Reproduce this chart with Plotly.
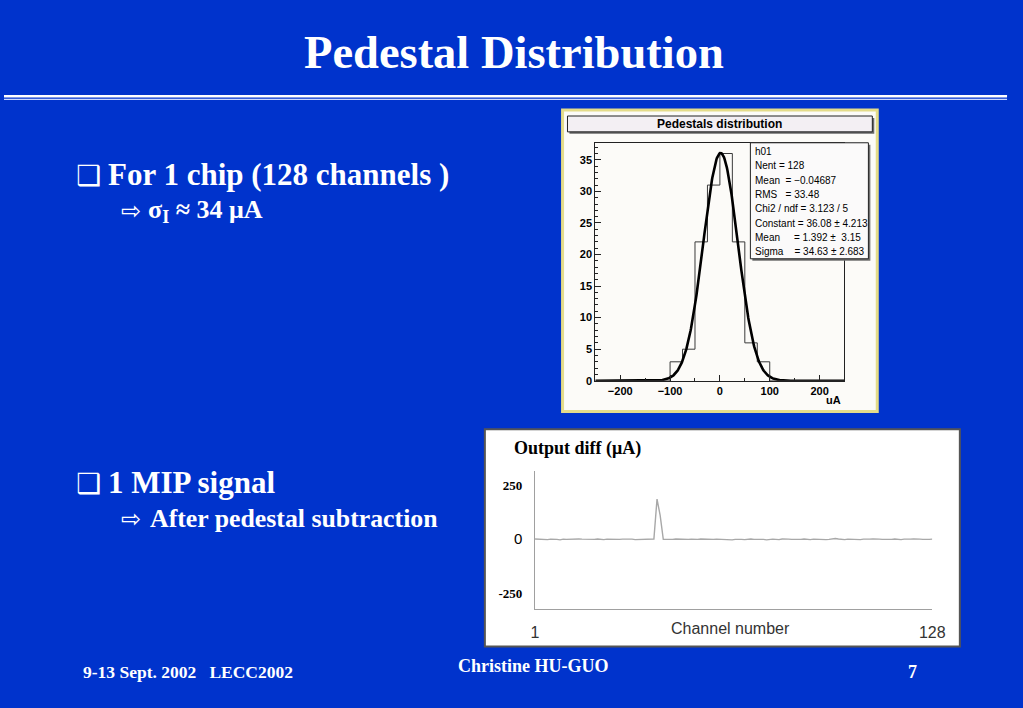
import numpy as np
import plotly.graph_objects as go

W, H = 1023, 708

# ---------------- data ----------------
bin_edges = [-100, -75, -50, -25, 0, 25, 50, 75, 100]
bin_counts = [3, 5, 22, 31, 36, 22, 6, 3]
fit_constant, fit_mean, fit_sigma = 36.08, 1.392, 34.63
hist_xrange = [-250, 250]
hist_yrange = [0, 37.7]

stats_lines = [
    "h01",
    "Nent = 128",
    "Mean  = \u22120.04687",
    "RMS   = 33.48",
    "Chi2 / ndf = 3.123 / 5",
    "Constant = 36.08 \u00b1 4.213",
    "Mean     = 1.392 \u00b1  3.15",
    "Sigma    = 34.63 \u00b1 2.683",
]

channels = list(range(1, 129))
output_diff = [
    2, 1, 3, 0, -1, 1, 2, 0, -2, 1, 0, 1, -1, 0, 2, 1,
    0, -1, 1, 0, 2, 0, -1, 1, 0, 1, -2, 0, 1, 2, 0, 1,
    -1, 0, 1, 2, 0, 1, 2, 188, 112, 0, -1, 1, 0, 2, 1, 0,
    -1, 0, 1, -1, 0, 2, 1, 0, -1, 0, 1, 0, -2, -1, -4, -2,
    0, 1, 0, -1, 1, 2, 0, 1, -1, 0, -2, 0, 1, 0, -1, 2,
    3, 1, 0, -1, 1, 0, 2, 0, -1, 1, 0, 1, 0, -1, 0, 2,
    4, 2, 0, -1, 1, 0, 2, 0, -1, 1, 0, 1, 2, 3, 1, 0,
    -1, 1, 0, 2, 0, -1, 1, 0, 1, 2, 3, 1, 0, -1, 0, 1,
]
diff_ticks = [-250, 0, 250]
diff_yrange = [-325, 319]

# ---------------- helpers ----------------
def px(x):
    return x / W

def py(y):
    return 1 - y / H

BLUE = "#0033cc"
SERIF = "Liberation Serif"
SANS = "Liberation Sans"

fig = go.Figure()

# histogram outline (step) built from bin edges & counts
step_x = [hist_xrange[0]] + bin_edges + [hist_xrange[1]]
step_y = [0] + bin_counts + [0, 0]
fig.add_trace(go.Scatter(x=step_x, y=step_y, mode="lines", line_shape="hv",
                         line=dict(color="#3a3a3a", width=1), xaxis="x", yaxis="y",
                         hoverinfo="skip", showlegend=False))

# gaussian fit curve evaluated from the fitted parameters
gx = np.linspace(hist_xrange[0], hist_xrange[1], 501)
gy = fit_constant * np.exp(-0.5 * ((gx - fit_mean) / fit_sigma) ** 2)
fig.add_trace(go.Scatter(x=gx, y=gy, mode="lines", line=dict(color="black", width=2.6),
                         xaxis="x", yaxis="y", hoverinfo="skip", showlegend=False))

# channel plot
fig.add_trace(go.Scatter(x=channels, y=output_diff, mode="lines",
                         line=dict(color="#a8a8a8", width=1.4), xaxis="x2", yaxis="y2",
                         hoverinfo="skip", showlegend=False))

shapes = []
# title double line
shapes.append(dict(type="line", xref="paper", yref="paper", x0=0, x1=px(1020),
                   y0=py(97), y1=py(97), line=dict(color="white", width=2.5)))
shapes.append(dict(type="line", xref="paper", yref="paper", x0=0, x1=px(1020),
                   y0=py(100.3), y1=py(100.3), line=dict(color="#c9d6ff", width=1.2)))
# histogram canvas
shapes.append(dict(type="rect", xref="paper", yref="paper", layer="below",
                   x0=px(568), x1=px(888), y0=py(415), y1=py(111),
                   fillcolor="#fcfbf8", line=dict(color="#e4dc8a", width=3)))
# title box (shadow + box)
shapes.append(dict(type="rect", xref="paper", yref="paper", layer="above",
                   x0=px(575), x1=px(885), y0=py(135), y1=py(119),
                   fillcolor="#6a6a6a", line=dict(width=0)))
shapes.append(dict(type="rect", xref="paper", yref="paper", layer="above",
                   x0=px(573), x1=px(883), y0=py(133), y1=py(117),
                   fillcolor="#f3eff3", line=dict(color="#222222", width=1)))
# stats box (shadow + box)
shapes.append(dict(type="rect", xref="paper", yref="paper", layer="above",
                   x0=px(761), x1=px(881), y0=py(263), y1=py(146),
                   fillcolor="#707070", line=dict(width=0)))
shapes.append(dict(type="rect", xref="paper", yref="paper", layer="above",
                   x0=px(759), x1=px(879), y0=py(261), y1=py(144),
                   fillcolor="#fbfafa", line=dict(color="#222222", width=1)))
# channel plot panel
shapes.append(dict(type="rect", xref="paper", yref="paper", layer="below",
                   x0=px(489), x1=px(972), y0=py(652), y1=py(433),
                   fillcolor="white", line=dict(color="#555555", width=2)))
fig.update_layout(shapes=shapes)

ann = []
def add_text(text, x, y, size, color="white", family=SERIF, xanchor="left", bold=True, yanchor="middle"):
    ann.append(dict(text=("<b>%s</b>" % text) if bold else text, x=px(x), y=py(y),
                    xref="paper", yref="paper", xanchor=xanchor, yanchor=yanchor,
                    showarrow=False, font=dict(family=family, size=size, color=color)))

# slide texts
add_text("Pedestal Distribution", 519, 53, 46.5, xanchor="center")
add_text("\u2751", 71, 177, 28, family="DejaVu Sans", bold=False)
add_text("For 1 chip (128 channels )", 104, 176, 31)
add_text("\u21e8", 117, 213, 24, family="DejaVu Sans", bold=False)
add_text("\u03c3<sub>I</sub> \u2248 34 \u03bcA", 144, 213, 26)
add_text("\u2751", 71, 488, 28, family="DejaVu Sans", bold=False)
add_text("1 MIP signal", 104, 487, 31)
add_text("\u21e8", 117, 523, 24, family="DejaVu Sans", bold=False)
add_text("After pedestal subtraction", 146, 523, 25.8)
add_text("9-13 Sept. 2002   LECC2002", 78, 678, 17.5)
add_text("Christine HU-GUO", 538, 672, 18, xanchor="center")
add_text("7", 924, 678, 18, xanchor="center")

# histogram texts
add_text("Pedestals distribution", 728, 125, 12, color="black", family=SANS, xanchor="center")
for i, line in enumerate(stats_lines):
    add_text(line.replace(" ", "&nbsp;") if "  " in line else line, 762, 153 + i * 14.4, 10,
             color="black", family=SANS, bold=False)
add_text("uA", 853, 403, 11, color="black", family=SANS, xanchor="right")

# channel plot texts
add_text("Output diff (\u03bcA)", 517, 452, 18, color="black")
add_text("Channel number", 739, 634, 16, color="#333333", family=SANS, xanchor="center", bold=False)

fig.update_layout(annotations=ann)

fig.update_layout(
    width=W, height=H, autosize=False,
    margin=dict(l=0, r=0, t=0, b=0),
    paper_bgcolor=BLUE, plot_bgcolor="rgba(0,0,0,0)",
    showlegend=False,
    xaxis=dict(domain=[px(601.3), px(854.7)], range=hist_xrange, anchor="y",
               showgrid=False, zeroline=False, showline=True, linecolor="#222222", linewidth=1,
               mirror=True, ticks="inside", ticklen=6, tickcolor="#222222", dtick=100, tick0=0,
               minor=dict(dtick=50, ticks="inside", ticklen=3, tickcolor="#222222"),
               tickfont=dict(family=SANS, size=11, color="black"), tickprefix="<b>", ticksuffix="</b>"),
    yaxis=dict(domain=[py(384), py(144)], range=hist_yrange, anchor="x",
               showgrid=False, zeroline=False, showline=True, linecolor="#222222", linewidth=1,
               mirror=True, ticks="inside", ticklen=6, tickcolor="#222222", dtick=5, tick0=0,
               minor=dict(dtick=1, ticks="inside", ticklen=3, tickcolor="#222222"),
               tickfont=dict(family=SANS, size=11, color="black"), tickprefix="<b>", ticksuffix="</b>"),
    xaxis2=dict(domain=[px(540), px(944)], range=[1, 128], anchor="y2",
                showgrid=False, zeroline=False, showline=True, linecolor="#a0a0a0", linewidth=1.2,
                tickvals=[1, 128], ticktext=["1", "128"], ticks="outside", ticklen=9,
                tickcolor="rgba(0,0,0,0)", tickfont=dict(family=SANS, size=16, color="#333333")),
    yaxis2=dict(domain=[py(614.3), py(475)], range=diff_yrange, anchor="x2",
                showgrid=False, zeroline=False, showline=True, linecolor="#a0a0a0", linewidth=1.2,
                tickvals=diff_ticks,
                ticktext=["<b>-250</b>",
                          "<span style='font-family:Liberation Sans;font-size:15px;font-weight:normal'>0</span>",
                          "<b>250</b>"],
                ticks="outside", ticklen=9, tickcolor="rgba(0,0,0,0)",
                tickfont=dict(family=SERIF, size=13, color="black")),
)

fig.write_html("out.html", config={"displayModeBar": False},
               post_script="document.documentElement.style.background='#0033cc';document.body.style.background='#0033cc';document.body.style.margin='0';document.body.style.overflow='hidden';")
